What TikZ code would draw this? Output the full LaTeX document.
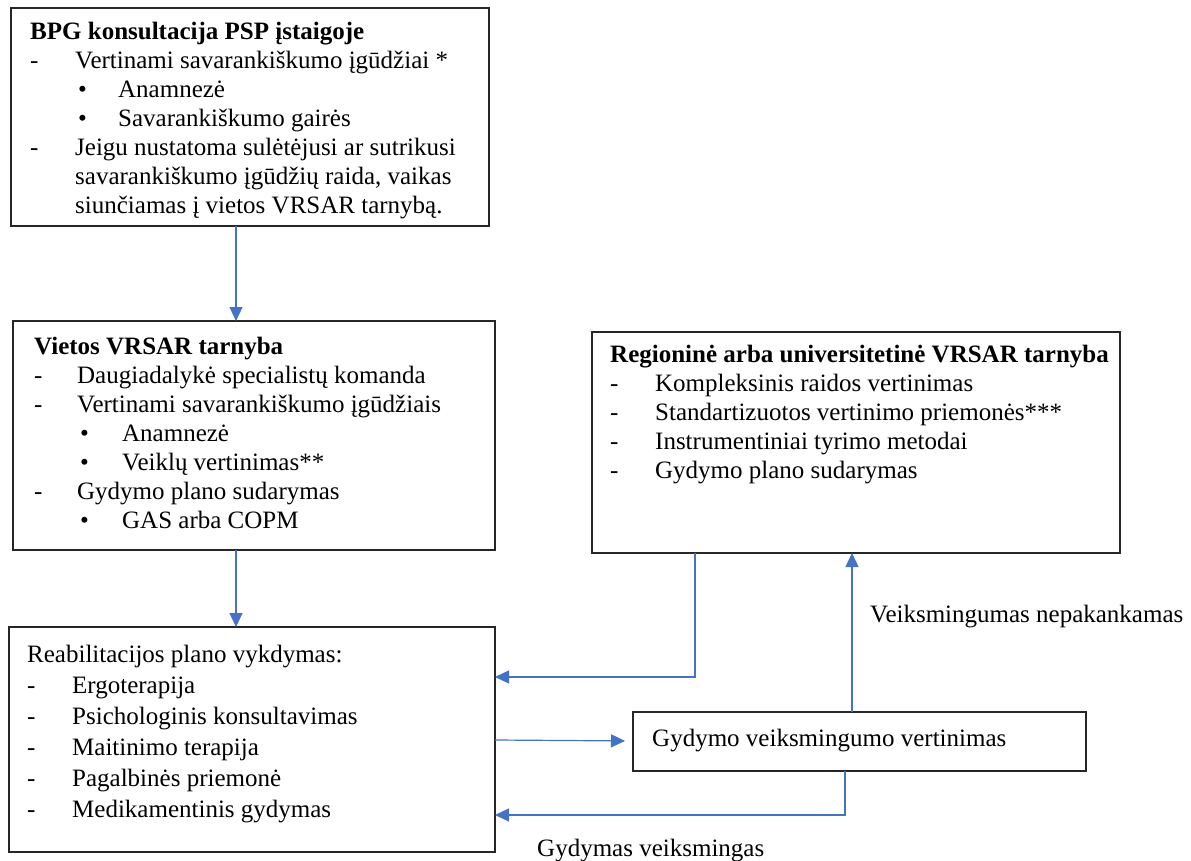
\documentclass[tikz,border=0pt]{standalone}
\usepackage{fontspec}
\setmainfont{Liberation Serif}
\usetikzlibrary{arrows.meta}
\definecolor{wblue}{HTML}{4472C4}
\newcommand\dl[2][45pt]{\makebox[#1][l]{-}#2}
\newcommand\bl[3][48pt]{\hspace*{#1}\makebox[#2][l]{\textbullet}#3}
\tikzset{
  box/.style={draw=black!85, line width=1.3pt, anchor=north west, inner sep=0pt, outer sep=0pt},
  txt/.style={anchor=north west, align=left, inner sep=0pt, font=\fontsize{25}{29}\selectfont},
  txtw/.style={anchor=north west, align=left, inner sep=0pt, font=\fontsize{25}{31}\selectfont},
  lbl/.style={anchor=base west, inner sep=0pt, font=\fontsize{25}{29}\selectfont},
  arr/.style={draw=wblue, line width=1.2pt, -{Triangle[length=14pt,width=13pt]}}
}
\begin{document}
\begin{tikzpicture}[x=1pt,y=-1pt]
\useasboundingbox (0,0) rectangle (1191,861);
% boxes
\node[box, minimum width=478pt, minimum height=218pt] (b1) at (11,8) {};
\node[box, minimum width=482pt, minimum height=229pt] (b2) at (13,321) {};
\node[box, minimum width=528pt, minimum height=221pt] (b3) at (592,332) {};
\node[box, minimum width=486pt, minimum height=225pt] (b4) at (9,627) {};
\node[box, minimum width=453pt, minimum height=59pt] (b5) at (633,712) {};
% texts
\node[txt] (t1) at (30,18.7) {\strut\textbf{BPG konsultacija PSP įstaigoje}\\
\dl{Vertinami savarankiškumo įgūdžiai *}\\
\bl{40pt}{Anamnezė}\\
\bl{40pt}{Savarankiškumo gairės}\\
\dl{Jeigu nustatoma sulėtėjusi ar sutrikusi}\\
\hspace*{45pt}savarankiškumo įgūdžių raida, vaikas\\
\hspace*{45pt}siunčiamas į vietos VRSAR tarnybą.};
\node[txt] (t2) at (34,333.7) {\strut\textbf{Vietos VRSAR tarnyba}\\
\dl[43pt]{Daugiadalykė specialistų komanda}\\
\dl[43pt]{Vertinami savarankiškumo įgūdžiais}\\
\bl[46pt]{42pt}{Anamnezė}\\
\bl[46pt]{42pt}{Veiklų vertinimas**}\\
\dl[43pt]{Gydymo plano sudarymas}\\
\bl[46pt]{42pt}{GAS arba COPM}};
\node[txt] (t3) at (610,341.7) {\strut\textbf{Regioninė arba universitetinė VRSAR tarnyba}\\
\dl[45pt]{Kompleksinis raidos vertinimas}\\
\dl[45pt]{Standartizuotos vertinimo priemonės***}\\
\dl[45pt]{Instrumentiniai tyrimo metodai}\\
\dl[45pt]{Gydymo plano sudarymas}};
\node[txtw] (t4) at (27,640.3) {\strut Reabilitacijos plano vykdymas:\\
\dl[45pt]{Ergoterapija}\\
\dl[45pt]{Psichologinis konsultavimas}\\
\dl[45pt]{Maitinimo terapija}\\
\dl[45pt]{Pagalbinės priemonė}\\
\dl[45pt]{Medikamentinis gydymas}};
\node[lbl] (t5) at (652,746) {Gydymo veiksmingumo vertinimas};
\node[lbl] (l1) at (870,622) {Veiksmingumas nepakankamas};
\node[lbl] (l2) at (537,856) {Gydymas veiksmingas};
% connectors
\draw[arr] ([xshift=225pt]b1.south west) -- ([xshift=225pt]b1.south west |- b2.north);
\draw[arr] ([xshift=223pt]b2.south west) -- ([xshift=223pt]b2.south west |- b4.north);
\draw[arr] ([xshift=103pt]b3.south west) |- ([yshift=-50pt]b4.north east);
\draw[arr] ([xshift=219pt]b5.north west) -- ([xshift=219pt]b5.north west |- b3.south);
\draw[arr, shorten >=8pt] ([yshift=-113pt]b4.north east) -- ([yshift=-29pt]b5.north west);
\draw[arr] ([xshift=212pt]b5.south west) |- ([yshift=-188pt]b4.north east);
\end{tikzpicture}
\end{document}
